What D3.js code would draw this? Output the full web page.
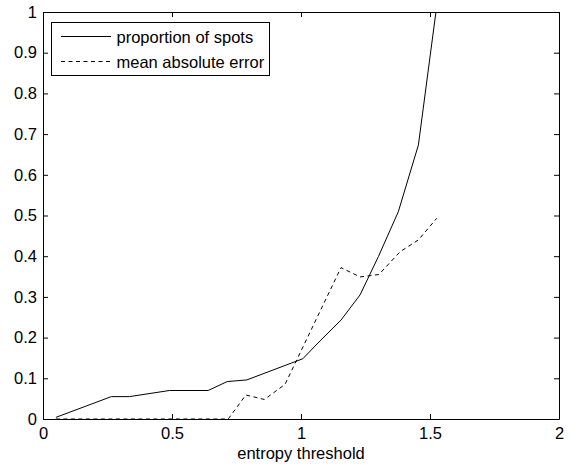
<!DOCTYPE html>
<html>
<head>
<meta charset="utf-8">
<script src="https://cdn.jsdelivr.net/npm/d3@7"></script>
<style>
  html, body { margin: 0; padding: 0; background: #fff; }
  svg { display: block; }
  text { font-family: "Liberation Sans", Arial, sans-serif; fill: #000; }
</style>
</head>
<body>
<svg id="chart" width="571" height="467"></svg>
<script>
// ---- data ----
const proportionX = [0.05, 0.265, 0.335, 0.49, 0.64, 0.714, 0.79, 1.007, 1.074, 1.155, 1.229, 1.30, 1.377, 1.455, 1.523];
const proportionY = [0.004, 0.055, 0.055, 0.07, 0.07, 0.092, 0.096, 0.148, 0.192, 0.243, 0.305, 0.399, 0.509, 0.673, 1.0];
const errorX = [0.05, 0.718, 0.786, 0.858, 0.938, 1.155, 1.229, 1.302, 1.384, 1.455, 1.526];
const errorY = [0.0, 0.0, 0.059, 0.048, 0.085, 0.372, 0.349, 0.355, 0.411, 0.44, 0.493];
const xTicks = [0, 0.5, 1, 1.5, 2];
const yTicks = [0, 0.1, 0.2, 0.3, 0.4, 0.5, 0.6, 0.7, 0.8, 0.9, 1];
const seriesNames = ["proportion of spots", "mean absolute error"];
const xLabel = "entropy threshold";

(function () {
  // ---- layout ----
  const pLeft = 43, pRight = 559, pTop = 12, pBottom = 419;
  const fontSize = 16.5;
  const svg = d3.select("#chart");
  const x = d3.scaleLinear().domain([0, 2]).range([pLeft, pRight]);
  const y = d3.scaleLinear().domain([0, 1]).range([pBottom, pTop]);
  const fmt = d => String(d);

  const tickLen = 5;
  const gBottom = svg.append("g").attr("transform", `translate(0,${pBottom})`)
    .call(d3.axisBottom(x).tickValues(xTicks).tickFormat(fmt).tickSizeInner(-tickLen).tickSizeOuter(0).tickPadding(8));
  const gTop = svg.append("g").attr("transform", `translate(0,${pTop})`)
    .call(d3.axisTop(x).tickValues(xTicks).tickFormat("").tickSizeInner(-tickLen).tickSizeOuter(0));
  const gLeft = svg.append("g").attr("transform", `translate(${pLeft},0)`)
    .call(d3.axisLeft(y).tickValues(yTicks).tickFormat(fmt).tickSizeInner(-tickLen).tickSizeOuter(0).tickPadding(6));
  const gRight = svg.append("g").attr("transform", `translate(${pRight},0)`)
    .call(d3.axisRight(y).tickValues(yTicks).tickFormat("").tickSizeInner(-tickLen).tickSizeOuter(0));

  [gBottom, gTop, gLeft, gRight].forEach(g => {
    g.selectAll("path.domain").attr("stroke", "#000").attr("stroke-width", 1);
    g.selectAll(".tick line").attr("stroke", "#000").attr("stroke-width", 1);
    g.selectAll("text").attr("font-size", fontSize).attr("font-family", "Liberation Sans, Arial, sans-serif").attr("fill", "#000");
  });

  svg.append("clipPath").attr("id", "clip").append("rect")
    .attr("x", pLeft).attr("y", pTop - 1).attr("width", pRight - pLeft).attr("height", pBottom - pTop + 2);

  const line = d3.line().x(d => x(d[0])).y(d => y(d[1]));
  const propData = proportionX.map((v, i) => [v, proportionY[i]]);
  const errData = errorX.map((v, i) => [v, errorY[i]]);

  svg.append("path").datum(propData).attr("d", line)
    .attr("fill", "none").attr("stroke", "#000").attr("stroke-width", 1).attr("clip-path", "url(#clip)");
  svg.append("path").datum(errData).attr("d", line)
    .attr("fill", "none").attr("stroke", "#000").attr("stroke-width", 1)
    .attr("stroke-dasharray", "4,3.5").attr("clip-path", "url(#clip)");

  svg.append("text").attr("x", x(1)).attr("y", 459).attr("text-anchor", "middle")
    .attr("font-size", fontSize).text(xLabel);

  const lg = svg.append("g");
  lg.append("rect").attr("x", 51.5).attr("y", 22.5).attr("width", 218).attr("height", 53)
    .attr("fill", "#fff").attr("stroke", "#000").attr("stroke-width", 1);
  const rows = [36.5, 61.5];
  seriesNames.forEach((name, i) => {
    lg.append("line").attr("x1", 61).attr("x2", 111).attr("y1", rows[i]).attr("y2", rows[i])
      .attr("stroke", "#000").attr("stroke-width", 1)
      .attr("stroke-dasharray", i === 1 ? "4,3.5" : null);
    lg.append("text").attr("x", 116.5).attr("y", rows[i] + 6)
      .attr("font-size", fontSize).text(name);
  });
})();
</script>
</body>
</html>
